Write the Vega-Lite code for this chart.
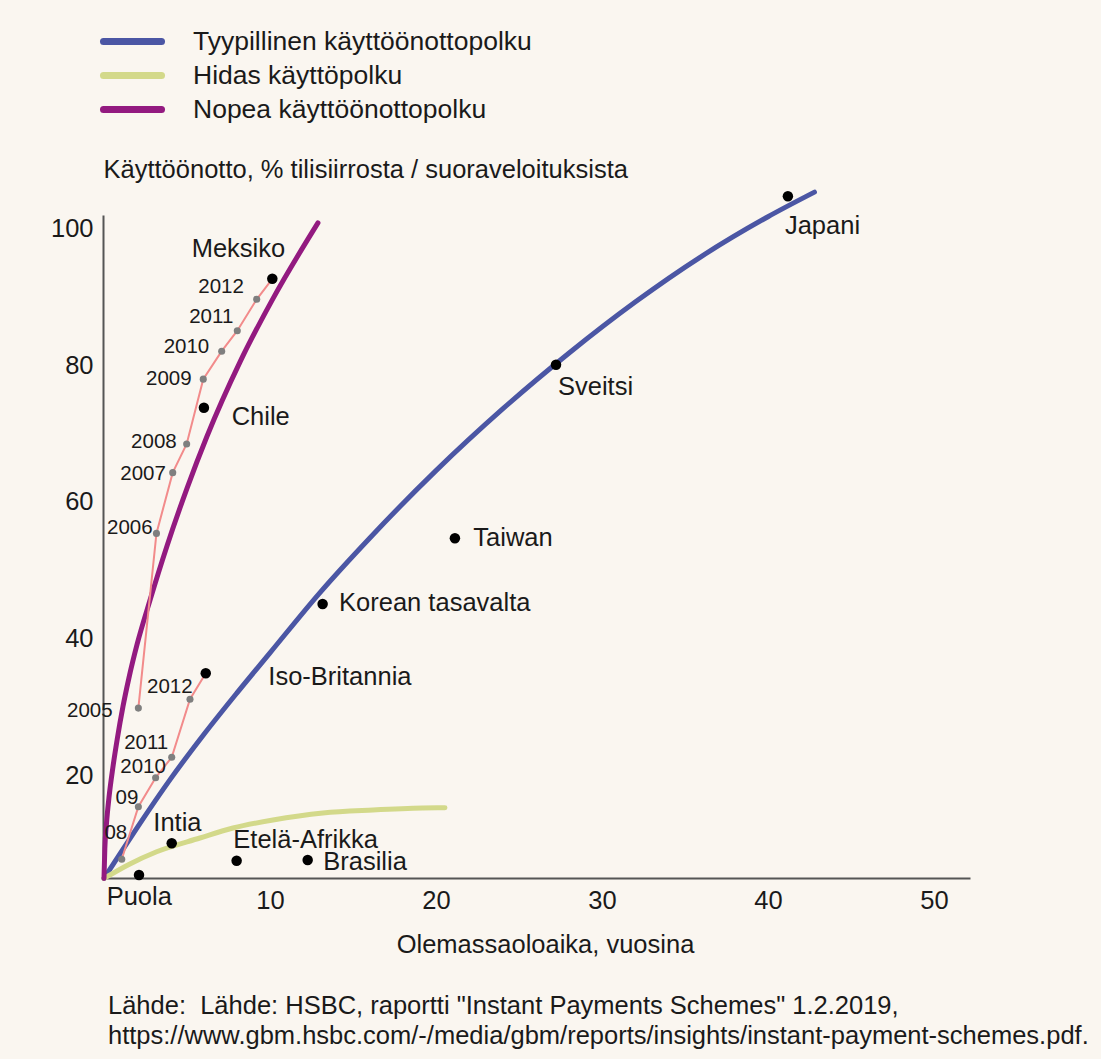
{
  "$schema": "https://vega.github.io/schema/vega-lite/v6.json",
  "width": 867,
  "height": 663,
  "autosize": {"type": "none"},
  "padding": {"left": 103, "top": 215, "right": 131, "bottom": 181},
  "background": "#faf6f0",
  "config": {
    "font": "Liberation Sans",
    "view": {"stroke": null},
    "text": {"color": "#1a1a1a"}
  },
  "title": {
    "text": ["Lähde:\u00a0 Lähde: HSBC, raportti \"Instant Payments Schemes\" 1.2.2019,", "https://www.gbm.hsbc.com/-/media/gbm/reports/insights/instant-payment-schemes.pdf."],
    "orient": "bottom",
    "anchor": "start",
    "frame": "group",
    "offset": 36,
    "dx": 5,
    "fontSize": 25.5,
    "fontWeight": "normal",
    "lineHeight": 30,
    "color": "#1a1a1a",
    "font": "Liberation Sans"
  },
  "datasets": {
    "polut": [
      {"polku": "Tyypillinen käyttöönottopolku", "x": 0, "y": 4.85},
      {"polku": "Tyypillinen käyttöönottopolku", "x": 1, "y": 8.6},
      {"polku": "Tyypillinen käyttöönottopolku", "x": 2, "y": 12.3},
      {"polku": "Tyypillinen käyttöönottopolku", "x": 4, "y": 19.4},
      {"polku": "Tyypillinen käyttöönottopolku", "x": 6, "y": 25.9},
      {"polku": "Tyypillinen käyttöönottopolku", "x": 8, "y": 32.0},
      {"polku": "Tyypillinen käyttöönottopolku", "x": 10, "y": 37.9},
      {"polku": "Tyypillinen käyttöönottopolku", "x": 13, "y": 46.7},
      {"polku": "Tyypillinen käyttöönottopolku", "x": 16, "y": 54.7},
      {"polku": "Tyypillinen käyttöönottopolku", "x": 20, "y": 64.6},
      {"polku": "Tyypillinen käyttöönottopolku", "x": 24, "y": 73.6},
      {"polku": "Tyypillinen käyttöönottopolku", "x": 28, "y": 81.8},
      {"polku": "Tyypillinen käyttöönottopolku", "x": 32, "y": 89.3},
      {"polku": "Tyypillinen käyttöönottopolku", "x": 36, "y": 96.0},
      {"polku": "Tyypillinen käyttöönottopolku", "x": 40, "y": 101.8},
      {"polku": "Tyypillinen käyttöönottopolku", "x": 42.8, "y": 105.4},
      {"polku": "Hidas käyttöpolku", "x": 0, "y": 4.85},
      {"polku": "Hidas käyttöpolku", "x": 1.5, "y": 6.9},
      {"polku": "Hidas käyttöpolku", "x": 3.17, "y": 8.76},
      {"polku": "Hidas käyttöpolku", "x": 5.78, "y": 10.77},
      {"polku": "Hidas käyttöpolku", "x": 7.77, "y": 12.23},
      {"polku": "Hidas käyttöpolku", "x": 10.18, "y": 13.41},
      {"polku": "Hidas käyttöpolku", "x": 13.19, "y": 14.43},
      {"polku": "Hidas käyttöpolku", "x": 16.2, "y": 14.87},
      {"polku": "Hidas käyttöpolku", "x": 19.2, "y": 15.16},
      {"polku": "Hidas käyttöpolku", "x": 20.54, "y": 15.2},
      {"polku": "Nopea käyttöönottopolku", "x": 0, "y": 4.85},
      {"polku": "Nopea käyttöönottopolku", "x": 0.05, "y": 9.2},
      {"polku": "Nopea käyttöönottopolku", "x": 0.15, "y": 12.9},
      {"polku": "Nopea käyttöönottopolku", "x": 0.3, "y": 16.7},
      {"polku": "Nopea käyttöönottopolku", "x": 0.54, "y": 21.2},
      {"polku": "Nopea käyttöönottopolku", "x": 0.8, "y": 25.3},
      {"polku": "Nopea käyttöönottopolku", "x": 1.14, "y": 30.0},
      {"polku": "Nopea käyttöönottopolku", "x": 1.5, "y": 34.2},
      {"polku": "Nopea käyttöönottopolku", "x": 2.0, "y": 39.2},
      {"polku": "Nopea käyttöönottopolku", "x": 2.77, "y": 45.6},
      {"polku": "Nopea käyttöönottopolku", "x": 3.8, "y": 53.6},
      {"polku": "Nopea käyttöönottopolku", "x": 5.0, "y": 62.0},
      {"polku": "Nopea käyttöönottopolku", "x": 6.2, "y": 69.6},
      {"polku": "Nopea käyttöönottopolku", "x": 8.19, "y": 80.5},
      {"polku": "Nopea käyttöönottopolku", "x": 10.18, "y": 89.8},
      {"polku": "Nopea käyttöönottopolku", "x": 12.89, "y": 100.9}
    ],
    "kehitys": [
      {"maa": "Meksiko", "vuosi": "2005", "x": 2.07, "y": 29.8},
      {"maa": "Meksiko", "vuosi": "2006", "x": 3.16, "y": 55.4},
      {"maa": "Meksiko", "vuosi": "2007", "x": 4.14, "y": 64.3},
      {"maa": "Meksiko", "vuosi": "2008", "x": 4.98, "y": 68.5},
      {"maa": "Meksiko", "vuosi": "2009", "x": 5.98, "y": 78.0},
      {"maa": "Meksiko", "vuosi": "2010", "x": 7.09, "y": 82.1},
      {"maa": "Meksiko", "vuosi": "2011", "x": 8.03, "y": 85.1},
      {"maa": "Meksiko", "vuosi": "2012", "x": 9.2, "y": 89.7},
      {"maa": "Meksiko", "vuosi": "nyt", "x": 10.14, "y": 92.7},
      {"maa": "Iso-Britannia", "vuosi": "2008", "x": 1.07, "y": 7.65},
      {"maa": "Iso-Britannia", "vuosi": "2009", "x": 2.07, "y": 15.36},
      {"maa": "Iso-Britannia", "vuosi": "2010", "x": 3.11, "y": 19.6},
      {"maa": "Iso-Britannia", "vuosi": "2011", "x": 4.08, "y": 22.6},
      {"maa": "Iso-Britannia", "vuosi": "2012", "x": 5.18, "y": 31.1},
      {"maa": "Iso-Britannia", "vuosi": "nyt", "x": 6.13, "y": 34.9}
    ],
    "maat": [
      {"maa": "Japani", "x": 41.2, "y": 104.8},
      {"maa": "Sveitsi", "x": 27.23, "y": 80.1},
      {"maa": "Taiwan", "x": 21.14, "y": 54.7},
      {"maa": "Korean tasavalta", "x": 13.17, "y": 45.05},
      {"maa": "Iso-Britannia", "x": 6.13, "y": 34.9},
      {"maa": "Chile", "x": 6.02, "y": 73.8},
      {"maa": "Meksiko", "x": 10.14, "y": 92.7},
      {"maa": "Intia", "x": 4.08, "y": 10.0},
      {"maa": "Etelä-Afrikka", "x": 7.99, "y": 7.44},
      {"maa": "Brasilia", "x": 12.27, "y": 7.55},
      {"maa": "Puola", "x": 2.11, "y": 5.35}
    ],
    "maanimet": [
      {"teksti": "Japani", "x": 41.02, "y": 100.44},
      {"teksti": "Sveitsi", "x": 27.35, "y": 76.85},
      {"teksti": "Taiwan", "x": 22.25, "y": 54.68},
      {"teksti": "Korean tasavalta", "x": 14.16, "y": 45.19},
      {"teksti": "Iso-Britannia", "x": 9.9, "y": 34.4},
      {"teksti": "Chile", "x": 7.69, "y": 72.5},
      {"teksti": "Meksiko", "x": 5.28, "y": 97.0},
      {"teksti": "Intia", "x": 2.97, "y": 12.9},
      {"teksti": "Etelä-Afrikka", "x": 7.79, "y": 10.48},
      {"teksti": "Brasilia", "x": 13.21, "y": 7.29},
      {"teksti": "Puola", "x": 0.16, "y": 2.16}
    ],
    "vuosinimet": [
      {"teksti": "2012", "x": 8.43, "y": 91.46},
      {"teksti": "2011", "x": 7.79, "y": 87.06},
      {"teksti": "2010", "x": 6.34, "y": 82.75},
      {"teksti": "2009", "x": 5.28, "y": 77.98},
      {"teksti": "2008", "x": 4.38, "y": 68.83},
      {"teksti": "2007", "x": 3.73, "y": 64.1},
      {"teksti": "2006", "x": 2.93, "y": 56.15},
      {"teksti": "2005", "x": 0.52, "y": 29.42},
      {"teksti": "2012", "x": 5.34, "y": 32.94},
      {"teksti": "2011", "x": 3.87, "y": 24.73},
      {"teksti": "2010", "x": 3.73, "y": 21.22},
      {"teksti": "09", "x": 2.07, "y": 16.59},
      {"teksti": "08", "x": 1.4, "y": 11.46}
    ]
  },
  "encoding": {
    "x": {
      "field": "x", "type": "quantitative",
      "scale": {"domain": [-0.06, 52.17], "nice": false, "zero": false},
      "axis": {
        "title": "Olemassaoloaika, vuosina",
        "values": [10, 20, 30, 40, 50],
        "ticks": false, "grid": false,
        "domainColor": "#555555", "domainWidth": 2,
        "labelFontSize": 25.5, "labelColor": "#1a1a1a", "labelPadding": 10,
        "titleFontSize": 25.5, "titleFontWeight": "normal", "titleColor": "#1a1a1a",
        "titleX": 442, "titleY": 74, "titleBaseline": "alphabetic", "titleAlign": "center"
      }
    },
    "y": {
      "field": "y", "type": "quantitative",
      "scale": {"domain": [4.91, 102.05], "nice": false, "zero": false},
      "axis": {
        "title": "Käyttöönotto, % tilisiirrosta / suoraveloituksista",
        "values": [20, 40, 60, 80, 100],
        "ticks": false, "grid": false,
        "domainColor": "#555555", "domainWidth": 2,
        "labelFontSize": 25.5, "labelColor": "#1a1a1a", "labelPadding": 10,
        "titleFontSize": 25.5, "titleFontWeight": "normal", "titleColor": "#1a1a1a",
        "titleAngle": 0, "titleAlign": "left", "titleBaseline": "alphabetic",
        "titleX": 0, "titleY": -38
      }
    }
  },
  "layer": [
    {
      "data": {"name": "polut"},
      "mark": {"type": "line", "strokeWidth": 5, "strokeCap": "round", "interpolate": "monotone"},
      "encoding": {
        "color": {
          "field": "polku", "type": "nominal",
          "scale": {
            "domain": ["Tyypillinen käyttöönottopolku", "Hidas käyttöpolku", "Nopea käyttöönottopolku"],
            "range": ["#4b56a4", "#d3d98a", "#931a80"]
          },
          "legend": {
            "title": null,
            "orient": "none",
            "legendX": 16,
            "legendY": -187,
            "padding": 0,
            "symbolType": "M-3,0L3,0",
            "symbolSize": 374,
            "symbolStrokeWidth": 7,
            "labelFontSize": 26.5,
            "labelColor": "#1a1a1a",
            "labelOffset": 47,
            "labelLimit": 600,
            "rowPadding": 5,
            "encode": {"symbols": {"update": {"strokeCap": {"value": "round"}}}}
          }
        }
      }
    },
    {
      "data": {"name": "kehitys"},
      "mark": {"type": "line", "strokeWidth": 2, "color": "#f28b8b"},
      "encoding": {"detail": {"field": "maa", "type": "nominal"}, "order": {"field": "x", "type": "quantitative"}}
    },
    {
      "data": {"name": "kehitys"},
      "transform": [{"filter": "datum.vuosi != 'nyt'"}],
      "mark": {"type": "circle", "size": 50, "opacity": 1, "color": "#7f7f7f"}
    },
    {
      "data": {"name": "maat"},
      "mark": {"type": "circle", "size": 110, "opacity": 1, "color": "#000000"}
    },
    {
      "data": {"name": "maanimet"},
      "mark": {"type": "text", "align": "left", "baseline": "middle", "fontSize": 25.5, "color": "#1a1a1a"},
      "encoding": {"text": {"field": "teksti", "type": "nominal"}}
    },
    {
      "data": {"name": "vuosinimet"},
      "mark": {"type": "text", "align": "right", "baseline": "middle", "fontSize": 20.5, "color": "#1a1a1a"},
      "encoding": {"text": {"field": "teksti", "type": "nominal"}}
    }
  ]
}
